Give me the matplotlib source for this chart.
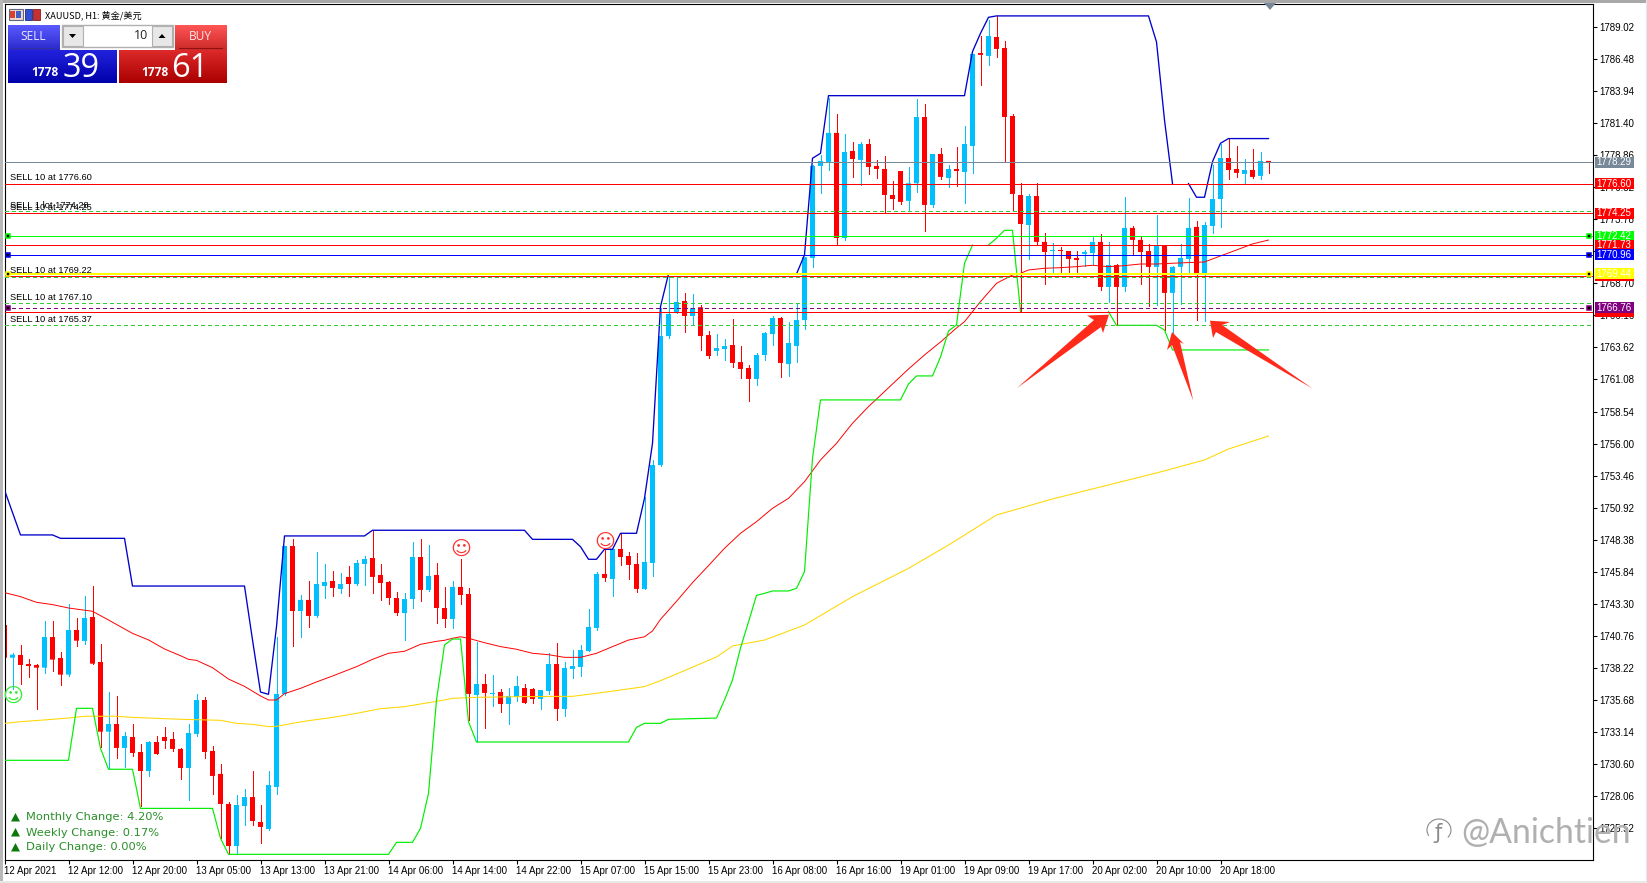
import numpy as np
import matplotlib
matplotlib.use("Agg")
import matplotlib.pyplot as plt
from matplotlib.patches import Rectangle, Polygon, Arc
from matplotlib.transforms import Affine2D

W, H = 1647, 883

opens = [
    1741.62, 1739.03, 1739.25, 1738.53, 1738.45, 1738.24, 1740.67, 1739.01, 1737.69, 1741.23,
    1740.36, 1742.26, 1738.69, 1733.17, 1733.78, 1731.88, 1732.75, 1731.56, 1730.05, 1732.35,
    1732.75, 1732.59, 1731.80, 1730.29, 1732.99, 1735.68, 1731.64, 1729.82, 1727.44, 1724.11,
    1727.28, 1727.99, 1726.01, 1725.46, 1728.79, 1736.16, 1747.88, 1742.73, 1743.61, 1742.34,
    1744.71, 1745.11, 1744.48, 1745.43, 1744.87, 1746.46, 1746.93, 1745.59, 1745.03, 1743.76,
    1742.57, 1743.68, 1747.01, 1744.40, 1745.59, 1742.97, 1742.10, 1744.64, 1744.08, 1736.08,
    1736.95, 1736.16, 1736.31, 1735.36, 1735.92, 1736.63, 1736.55, 1735.76, 1736.39, 1738.53,
    1734.97, 1738.14, 1738.30, 1739.56, 1741.39, 1745.67, 1745.27, 1747.65, 1747.09, 1746.46,
    1744.48, 1746.54, 1754.30, 1764.52, 1766.35, 1767.30, 1766.11, 1766.80, 1764.60, 1763.34,
    1763.49, 1763.81, 1762.46, 1761.99, 1761.12, 1763.02, 1764.68, 1765.95, 1762.31, 1763.73,
    1765.79, 1770.71, 1778.00, 1778.32, 1780.62, 1772.29, 1779.19, 1778.48, 1779.74, 1778.00,
    1777.76, 1775.70, 1777.60, 1775.23, 1776.63, 1781.88, 1774.91, 1778.95, 1777.05, 1777.76,
    1777.52, 1779.58, 1786.95, 1786.72, 1788.22, 1787.35, 1781.96, 1775.70, 1773.32, 1775.62,
    1771.98, 1771.26, 1771.34, 1771.26, 1770.71, 1771.03, 1771.10, 1771.98, 1768.41, 1770.15,
    1768.41, 1773.09, 1772.14, 1771.26, 1770.00, 1771.66, 1767.94, 1770.00, 1770.63, 1773.17,
    1769.44, 1773.24, 1775.38, 1778.63, 1777.76, 1777.37, 1777.68, 1777.21, 1778.40]

closes = [
    1739.03, 1739.27, 1738.45, 1738.37, 1738.24, 1740.67, 1738.88, 1737.69, 1741.23, 1740.38,
    1742.18, 1738.56, 1733.17, 1733.78, 1731.88, 1732.83, 1731.48, 1730.05, 1732.35, 1731.40,
    1732.43, 1731.80, 1730.29, 1733.06, 1735.68, 1731.56, 1729.66, 1727.44, 1724.11, 1727.36,
    1727.99, 1726.09, 1725.62, 1728.94, 1736.16, 1747.88, 1742.73, 1743.61, 1742.34, 1744.87,
    1745.03, 1744.56, 1744.87, 1744.87, 1746.54, 1746.85, 1745.43, 1744.95, 1743.76, 1742.57,
    1743.68, 1747.01, 1744.40, 1745.51, 1742.97, 1742.10, 1744.64, 1744.00, 1736.16, 1736.95,
    1736.24, 1736.24, 1735.36, 1736.00, 1736.79, 1735.44, 1735.76, 1736.47, 1738.53, 1734.97,
    1738.22, 1738.37, 1739.64, 1741.47, 1745.67, 1745.35, 1747.65, 1747.01, 1746.38, 1744.48,
    1746.62, 1754.30, 1764.52, 1766.27, 1767.22, 1766.11, 1766.74, 1764.52, 1762.94, 1763.57,
    1763.73, 1762.39, 1761.91, 1761.12, 1763.02, 1764.76, 1765.95, 1762.39, 1763.97, 1765.79,
    1770.76, 1778.00, 1778.40, 1780.62, 1772.29, 1779.11, 1778.55, 1779.74, 1777.92, 1777.76,
    1775.70, 1775.38, 1775.15, 1776.63, 1781.88, 1774.91, 1778.95, 1777.13, 1777.76, 1777.60,
    1779.74, 1786.88, 1786.80, 1788.30, 1787.27, 1781.88, 1775.78, 1773.40, 1775.62, 1771.98,
    1771.18, 1771.34, 1771.26, 1770.63, 1770.55, 1771.18, 1771.98, 1768.41, 1770.15, 1768.41,
    1773.09, 1772.14, 1771.18, 1770.00, 1771.66, 1767.94, 1770.00, 1770.71, 1773.09, 1769.44,
    1773.32, 1775.38, 1778.63, 1777.68, 1777.45, 1777.68, 1777.13, 1778.40, 1778.24]

highs = [
    1741.76, 1739.40, 1740.04, 1738.90, 1738.51, 1741.94, 1741.94, 1739.48, 1743.29, 1742.18,
    1743.92, 1744.71, 1740.12, 1736.31, 1736.00, 1733.14, 1733.78, 1732.19, 1732.43, 1732.83,
    1733.54, 1733.14, 1731.88, 1733.78, 1736.16, 1735.92, 1732.03, 1730.61, 1727.60, 1728.15,
    1728.63, 1730.05, 1727.36, 1730.05, 1740.70, 1747.88, 1748.44, 1744.00, 1745.11, 1747.41,
    1746.46, 1745.90, 1745.74, 1746.30, 1746.78, 1747.09, 1749.10, 1746.46, 1745.11, 1744.24,
    1744.16, 1748.20, 1748.44, 1747.96, 1746.54, 1744.64, 1745.11, 1746.85, 1744.56, 1740.28,
    1737.74, 1737.66, 1736.55, 1736.63, 1737.58, 1736.95, 1736.63, 1736.47, 1739.40, 1740.20,
    1738.69, 1739.64, 1740.04, 1742.89, 1745.82, 1747.57, 1747.65, 1748.84, 1747.41, 1747.33,
    1751.77, 1754.70, 1766.72, 1769.28, 1769.12, 1767.93, 1767.85, 1766.98, 1764.92, 1764.68,
    1764.29, 1765.87, 1763.73, 1762.23, 1763.18, 1764.84, 1766.11, 1766.03, 1765.63, 1767.14,
    1770.76, 1778.08, 1778.87, 1783.36, 1782.12, 1780.54, 1779.90, 1779.90, 1780.14, 1778.48,
    1778.79, 1776.81, 1777.60, 1777.92, 1783.31, 1782.91, 1778.95, 1779.43, 1778.08, 1779.51,
    1781.17, 1786.88, 1788.30, 1789.57, 1789.89, 1787.91, 1782.12, 1776.63, 1775.78, 1776.63,
    1772.69, 1771.90, 1771.58, 1771.26, 1771.26, 1771.34, 1772.40, 1772.61, 1771.98, 1770.23,
    1775.54, 1773.24, 1772.37, 1771.82, 1774.12, 1771.66, 1770.07, 1771.82, 1775.46, 1773.64,
    1773.56, 1778.08, 1779.74, 1780.14, 1779.59, 1778.56, 1779.35, 1779.11, 1778.40]

lows = [
    1739.03, 1736.53, 1736.95, 1737.53, 1734.99, 1737.85, 1737.95, 1736.90, 1737.61, 1739.99,
    1740.14, 1738.56, 1731.98, 1730.26, 1731.08, 1730.37, 1731.24, 1727.28, 1729.66, 1731.40,
    1731.88, 1731.64, 1729.42, 1727.76, 1732.83, 1731.08, 1728.23, 1724.74, 1723.48, 1723.48,
    1725.77, 1725.77, 1724.35, 1725.38, 1728.23, 1736.08, 1739.96, 1740.67, 1741.47, 1742.26,
    1743.76, 1743.92, 1744.16, 1743.92, 1744.79, 1744.77, 1744.16, 1743.61, 1743.29, 1742.42,
    1740.44, 1742.97, 1743.53, 1744.32, 1741.78, 1741.47, 1741.39, 1743.29, 1734.10, 1732.35,
    1733.46, 1735.20, 1734.73, 1733.78, 1735.60, 1735.44, 1735.44, 1734.97, 1736.16, 1734.10,
    1734.41, 1737.42, 1737.58, 1739.56, 1741.23, 1745.11, 1743.92, 1746.38, 1745.27, 1744.24,
    1744.48, 1745.51, 1754.22, 1764.37, 1766.35, 1764.84, 1765.48, 1763.42, 1762.78, 1763.02,
    1762.62, 1762.07, 1761.20, 1759.37, 1760.64, 1762.62, 1763.81, 1761.28, 1761.35, 1762.46,
    1765.08, 1770.00, 1775.86, 1777.68, 1771.71, 1772.14, 1777.13, 1776.49, 1777.37, 1777.05,
    1774.25, 1774.59, 1774.99, 1774.51, 1775.94, 1772.85, 1774.75, 1776.97, 1776.34, 1776.41,
    1775.07, 1777.44, 1784.42, 1786.00, 1786.64, 1778.40, 1774.51, 1766.45, 1770.63, 1771.71,
    1768.65, 1769.44, 1769.52, 1769.44, 1769.60, 1770.07, 1770.15, 1768.17, 1767.22, 1765.40,
    1768.09, 1771.03, 1768.65, 1766.90, 1766.98, 1765.00, 1764.34, 1767.06, 1769.44, 1765.80,
    1765.72, 1772.69, 1773.17, 1776.97, 1777.13, 1776.65, 1777.05, 1776.97, 1777.45]

# channel and moving average lines, read at the bars where they bend
upper_idx = [0, 2, 6, 7, 15, 16, 30, 31, 32, 33, 34, 35, 45, 46, 65, 66, 71, 72, 73, 74, 75, 76, 77, 79,
             80, 81, 82, 83, 91, 99, 100, 101, 102, 103, 120, 121, 122, 123, 124, 143, 144, 145, 146, 147, 148,
             149, 150, 151, 152, 153, 158]
# nan where the line runs hidden behind a trade level
upper_val = [1752.32, 1748.76, 1748.76, 1748.49, 1748.49, 1744.71, 1744.71, 1740.44, 1736.31, 1736.13,
             1741.49, 1748.68, 1748.68, 1749.13, 1749.13, 1748.41, 1748.41, 1747.83, 1746.83, 1746.83,
             1747.62, 1747.62, 1748.89, 1748.89, 1751.66, 1756.02, 1766.85, 1769.44, np.nan, 1769.44, 1770.95,
             1778.61, 1779.00, 1783.57, 1783.57, 1787.06, 1788.51, 1789.78, 1789.89, 1789.89, 1787.83,
             1781.64, 1776.60, np.nan, 1776.60, 1775.52, 1775.52, 1778.34, 1779.80, 1780.17, 1780.17]

lower_idx = [0, 8, 9, 11, 12, 13, 16, 17, 26, 27, 28, 48, 49, 51, 52, 53, 54, 55, 56, 57, 58, 59, 78, 79,
             80, 82, 83, 89, 90, 91, 92, 93, 94, 95, 96, 98, 99, 100, 101, 102, 112, 113, 114, 116, 117,
             118, 119, 120, 121, 122, 123, 124, 125, 126, 127, 132, 138, 139, 144, 145, 146, 158]
lower_val = [1730.90, 1730.90, 1735.02, 1735.02, 1731.85, 1730.19, 1730.19, 1727.09, 1727.09, 1724.72,
             1723.45, 1723.45, 1724.40, 1724.40, 1725.51, 1728.28, 1735.68, 1740.04, 1740.51, 1740.51,
             1733.96, 1732.35, 1732.35, 1733.51, 1733.83, 1733.83, 1734.15, 1734.25, 1735.68, 1737.27,
             1739.80, 1741.86, 1743.97, 1744.13, 1744.32, 1744.32, 1744.53, 1745.85, 1754.83, 1759.46,
             1759.46, 1760.72, 1761.36, 1761.36, 1762.86, 1764.92, 1765.40, 1770.29, 1771.73, np.nan, 1771.73,
             1772.27, 1772.90, 1772.90, 1766.46, np.nan, 1766.46, 1765.37, 1765.37, 1765.00, 1763.42, 1763.42]

ma_red_idx = [0, 2, 4, 6, 8, 11, 13, 16, 18, 20, 22, 23, 24, 26, 28, 30, 32, 33, 34, 35, 37, 39, 41, 44,
              46, 48, 50, 52, 54, 55, 56, 57, 58, 60, 62, 64, 66, 68, 70, 72, 74, 76, 78, 80, 81, 82, 84,
              86, 88, 90, 92, 94, 96, 98, 100, 102, 104, 106, 108, 110, 111, 113, 115, 117, 119, 120, 122,
              124, 126, 127, 128, 130, 132, 134, 136, 138, 140, 142, 144, 146, 148, 150, 152, 154, 156,
              158]
ma_red_val = [1744.19, 1743.87, 1743.42, 1743.24, 1742.97, 1742.71, 1742.02, 1740.96, 1740.44, 1739.72,
              1739.19, 1738.90, 1738.82, 1738.24, 1737.34, 1736.76, 1736.00, 1735.68, 1735.68, 1736.18,
              1736.60, 1737.11, 1737.58, 1738.32, 1738.90, 1739.38, 1739.54, 1740.09, 1740.33, 1740.41,
              1740.57, 1740.69, 1740.57, 1740.22, 1739.91, 1739.70, 1739.38, 1739.27, 1739.06, 1739.06,
              1739.38, 1739.91, 1740.43, 1740.69, 1741.15, 1742.07, 1743.50, 1744.98, 1746.33, 1747.70,
              1748.89, 1749.81, 1750.87, 1751.66, 1752.98, 1754.70, 1756.02, 1757.61, 1758.93, 1760.12,
              1760.72, 1761.91, 1763.02, 1764.05, 1765.16, 1765.66, 1767.25, 1768.70, 1769.36, 1769.49,
              1769.76, 1769.89, 1769.94, 1770.02, 1770.13, 1770.02, 1770.10, 1770.23, 1770.23, 1770.29,
              1770.34, 1770.39, 1770.87, 1771.34, 1771.82, 1772.13]

ma_yel_idx = [0, 2, 5, 8, 10, 14, 16, 18, 22, 27, 29, 31, 33, 34, 36, 38, 41, 44, 47, 50, 53, 55, 56, 59,
              65, 71, 74, 77, 80, 82, 84, 89, 91, 95, 100, 106, 113, 118, 124, 131, 139, 144, 150, 153,
              158]
ma_yel_val = [1733.83, 1733.96, 1734.10, 1734.25, 1734.39, 1734.39, 1734.30, 1734.25, 1734.15, 1734.07,
              1733.83, 1733.75, 1733.57, 1733.59, 1733.83, 1734.04, 1734.30, 1734.62, 1734.99, 1735.15,
              1735.47, 1735.68, 1735.81, 1735.89, 1735.95, 1735.97, 1736.21, 1736.47, 1736.74, 1737.21,
              1737.74, 1739.09, 1739.96, 1740.43, 1741.62, 1743.87, 1746.11, 1747.96, 1750.34, 1751.61,
              1752.88, 1753.67, 1754.70, 1755.57, 1756.60]

smile_idx = [1, 57, 75]
smile_val = [1735.94, 1747.65, 1748.20]
smile_col = ['#33ee33', '#ff3333', '#ff3333']

tick_idx = list(range(0, 153, 8))
tick_lab = ['12 Apr 2021', '12 Apr 12:00', '12 Apr 20:00', '13 Apr 05:00', '13 Apr 13:00', '13 Apr 21:00',
            '14 Apr 06:00', '14 Apr 14:00', '14 Apr 22:00', '15 Apr 07:00', '15 Apr 15:00', '15 Apr 23:00',
            '16 Apr 08:00', '16 Apr 16:00', '19 Apr 01:00', '19 Apr 09:00', '19 Apr 17:00', '20 Apr 02:00',
            '20 Apr 10:00', '20 Apr 18:00']
price_ticks = [1789.02, 1786.48, 1783.94, 1781.40, 1778.86, 1776.32, 1773.78, 1771.24, 1768.70, 1766.16,
               1763.62, 1761.08, 1758.54, 1756.00, 1753.46, 1750.92, 1748.38, 1745.84, 1743.30, 1740.76,
               1738.22, 1735.68, 1733.14, 1730.60, 1728.06, 1725.52]

# horizontal levels: price, colour, dashed, then right hand tag
level_val = [1778.29, 1776.60, 1774.25, 1772.42, 1771.73, 1770.96, 1769.30, 1769.44, 1766.46, 1766.76]
level_col = ['#778899', '#ff0000', '#ff0000', '#00ff00', '#ff0000', '#0000ff', '#ff0000', '#ffff00', '#ff0000', '#800080']
level_dash = [False, False, False, False, False, False, False, False, False, True]
order_val = [1774.45, 1769.22, 1767.10, 1765.37]

marker_val = [1772.42, 1770.96, 1769.44, 1766.76]
marker_col = ['#00ff00', '#0000ff', '#ffff00', '#800080']

sell_val = [1776.60, 1774.38, 1774.25, 1769.22, 1767.10, 1765.37]
sell_lab = ['SELL 10 at 1776.60', 'SELL 1 lot 1774.28', 'SELL 10 at 1774.25', 'SELL 10 at 1769.22',
            'SELL 10 at 1767.10', 'SELL 10 at 1765.37']

change_lab = ['Monthly Change: 4.20%', 'Weekly Change: 0.17%', 'Daily Change: 0.00%']

plt.rcParams['font.family'] = ['Liberation Sans', 'DejaVu Sans']
fig = plt.figure(figsize=(W / 100, H / 100), dpi=100, facecolor='white')
pix = Affine2D().scale(1 / W, -1 / H).translate(0, 1) + fig.transFigure

ax = fig.add_axes([4.5 / W, 1 - 860 / H, (1592.7 - 4.5) / W, (860 - 4.3) / H])
ax.set_xlim(0, 198.525)
ax.set_ylim(1723.0, 1790.81)
for s in ax.spines.values():
    s.set_linewidth(0.8)

opens, closes, highs, lows = map(np.array, (opens, closes, highs, lows))
idx = np.arange(len(opens))
up = closes >= opens
cols = np.where(up, '#00bfff', '#ff0000')

ax.vlines(idx, lows, highs, colors=cols, lw=0.72, zorder=2, antialiased=False)
bars = ax.bar(idx, np.abs(closes - opens), bottom=np.minimum(opens, closes), width=5 / 8, color=cols, lw=0, zorder=2.1)
for b in bars:
    b.set_snap(False)

ax.plot(ma_yel_idx, ma_yel_val, color='#ffd700', lw=0.75, zorder=3)
ax.plot(ma_red_idx, ma_red_val, color='#ff0000', lw=0.7, zorder=3.1)
ax.plot(lower_idx, lower_val, color='#00ee00', lw=0.85, zorder=3.2)
ax.plot(upper_idx, upper_val, color='#0000cc', lw=0.95, zorder=3.3)

for v in order_val:
    ax.axhline(v, color='#32cd32', lw=0.72, dashes=(4, 3), zorder=4, antialiased=False)
for v, c, d in zip(level_val, level_col, level_dash):
    if d:
        ax.axhline(v, color=c, lw=0.72, dashes=(4, 3), zorder=4.2, antialiased=False)
    else:
        ax.axhline(v, color=c, lw=0.72, zorder=4.2, antialiased=False)
for v in level_val[7:8]:
    ax.axhline(v, color='#ffff00', lw=1.2, zorder=4.3, antialiased=False)

# little square handles on both ends of the trade lines
for v, c in zip(marker_val, marker_col):
    for x in (3 / 1588, 1584.6 / 1588):
        ax.plot([x], [v], marker='s', ms=3.0, mfc='black', mec=c, mew=1.1, zorder=5,
                transform=ax.get_yaxis_transform(), clip_on=False)

for v, t in zip(sell_val, sell_lab):
    ax.annotate(t, (5.5 / 1588, v), xycoords=ax.get_yaxis_transform(), xytext=(0, 6), textcoords='offset pixels',
                fontsize=6.7, color='black', ha='left', va='center', zorder=5)

for i, v, c in zip(smile_idx, smile_val, smile_col):
    ax.text(i, v, '\u263a', family='DejaVu Sans', fontsize=14.5, color=c, ha='center', va='center', zorder=6)

ax.set_xticks(tick_idx)
ax.set_xticklabels(tick_lab, ha='left', fontsize=7)
ax.yaxis.tick_right()
ax.set_yticks(price_ticks)
ax.set_yticklabels(['%.2f' % p for p in price_ticks], fontsize=7)
ax.tick_params(axis='x', length=3, width=0.8, pad=1.2)
ax.tick_params(axis='y', length=3, width=0.8, pad=2)

# price tags over the scale
tag_h = 11 * (1790.81 - 1723.0) / 855.7
for v, c in zip(level_val, level_col):
    ax.add_patch(Rectangle((1 + 2.3 / 1588, v - tag_h / 2), 39 / 1588, tag_h, fc=c, ec='none', zorder=10,
                           transform=ax.get_yaxis_transform(), clip_on=False))
    if v == 1769.30 or v == 1766.46:
        continue
    ax.text(1 + 4 / 1588, v, '%.2f' % v, color='white', fontsize=7, va='center', ha='left', zorder=11,
            transform=ax.get_yaxis_transform(), clip_on=False)

# chart shift marker at the top
fig.add_artist(Polygon([(1264, 3), (1276, 3), (1270, 10)], closed=True, fc='#778899', ec='none', transform=pix))

# window edges
for x0, y0, x1, y1, c in [(0, 0, W, 2.5, '#a8a8a8'), (0, 0, 3, H, '#b8b8b8'), (1645.5, 0, W, H, '#e8e8e8'),
                          (0, 881, W, H, '#e8e8e8')]:
    fig.add_artist(Rectangle((x0, y0), x1 - x0, y1 - y0, fc=c, ec='none', transform=pix))


def gradient(x0, y0, x1, y1, top, bottom):
    a = fig.add_axes([x0 / W, 1 - y1 / H, (x1 - x0) / W, (y1 - y0) / H], zorder=20)
    c0 = np.array(matplotlib.colors.to_rgb(top))
    c1 = np.array(matplotlib.colors.to_rgb(bottom))
    t = np.linspace(0, 1, 64)[:, None, None]
    a.imshow(c0[None, None, :] * (1 - t) + c1[None, None, :] * t, aspect='auto')
    a.axis('off')


def label(x, y, s, **kw):
    kw.setdefault('ha', 'center')
    kw.setdefault('va', 'center')
    return fig.text(x, y, s, transform=pix, zorder=30, **kw)


# one click trading panel
gradient(8, 25, 60, 50, '#5a5aff', '#2a2acc')
gradient(8, 50, 117, 83, '#2222dd', '#0000aa')
gradient(175, 25, 227, 50, '#ff5555', '#cc2a2a')
gradient(119, 50, 227, 83, '#dd2a2a', '#aa0000')
fig.add_artist(Rectangle((62, 25), 111, 22, fc='white', ec='#b0b0b0', lw=1.0, transform=pix, zorder=25))
for x0 in (63, 152):
    fig.add_artist(Rectangle((x0, 26), 20, 20, fc='#e8e8e8', ec='#b0b0b0', lw=0.8, transform=pix, zorder=26))
fig.add_artist(Polygon([(69, 34), (76, 34), (72.5, 38)], closed=True, fc='black', ec='none', transform=pix, zorder=27))
fig.add_artist(Polygon([(158.5, 38), (165.5, 38), (162, 34)], closed=True, fc='black', ec='none', transform=pix, zorder=27))
for x0, c in ((12, '#3030a0'), (179, '#901010')):
    fig.add_artist(Rectangle((x0, 48), 44, 0.8, fc=c, ec='none', transform=pix, zorder=27))
label(33, 36, 'SELL', color='#e8e8ff', fontsize=8.6, family=['Open Sans', 'DejaVu Sans'])
label(200, 36, 'BUY', color='#ffe8e8', fontsize=8.6, family=['Open Sans', 'DejaVu Sans'])
label(148, 35.5, '10', color='#222222', fontsize=9.0, ha='right', family=['Open Sans', 'DejaVu Sans'])
label(45, 72.5, '1778', color='white', fontsize=8.6, fontweight='bold', family=['Open Sans', 'DejaVu Sans'])
label(155, 72.5, '1778', color='white', fontsize=8.6, fontweight='bold', family=['Open Sans', 'DejaVu Sans'])
label(81, 68.5, '39', color='white', fontsize=23.5, family=['Open Sans', 'DejaVu Sans'])
label(190, 68.5, '61', color='white', fontsize=23.5, family=['Open Sans', 'DejaVu Sans'])

# chart header with its two icons
fig.add_artist(Rectangle((8.5, 9), 14, 11, fc='#f4d8c8', ec='#606880', lw=0.8, transform=pix, zorder=25))
fig.add_artist(Rectangle((10, 11), 5, 7, fc='#d84030', ec='none', transform=pix, zorder=26))
fig.add_artist(Rectangle((16, 11), 5, 7, fc='#4060c8', ec='none', transform=pix, zorder=26))
fig.add_artist(Rectangle((25, 9), 7, 11, fc='#3050d0', ec='#202880', lw=0.6, transform=pix, zorder=25))
fig.add_artist(Rectangle((33, 9), 7, 11, fc='#c83030', ec='#802020', lw=0.6, transform=pix, zorder=25))
label(45, 15, 'XAUUSD, H1: \u9ec4\u91d1/\u7f8e\u5143', color='black', fontsize=6.6, ha='left',
      family=['Noto Sans CJK SC', 'DejaVu Sans'])

# change block bottom left
for k, t in enumerate(change_lab):
    y = 817 + 15 * k
    fig.add_artist(Polygon([(11, y + 4.5), (20, y + 4.5), (15.5, y - 4)], closed=True, fc='#0b7a0b', ec='none',
                           transform=pix, zorder=25))
    label(26, y + 0.5, t, color='#2a8f2a', fontsize=8.25, ha='left', family=['DejaVu Sans'])

# red hand drawn arrows
arrow_col = '#ff2a1a'
arrow_a = [(1109, 314.7), (1087, 315.5), (1094, 320), (1016.7, 388.3), (1101, 327), (1103, 333)]
arrow_b = [(1172, 332), (1184, 344), (1180, 342), (1193.3, 400.7), (1172, 345), (1167, 350)]
arrow_c = [(1210, 320.7), (1230, 322), (1222, 325), (1312.7, 388.7), (1216, 332), (1213, 338)]
for pts in (arrow_a, arrow_b, arrow_c):
    fig.add_artist(Polygon(pts, closed=True, fc=arrow_col, ec='none', transform=pix, zorder=15))

# watermark
label(1461, 833, '@Anichtien', color='#b0b0b0', fontsize=24.3, ha='left', family=['Lato', 'DejaVu Sans'])
fig.add_artist(Arc((1439, 830), 24, 22, theta1=150, theta2=40, color='#8a8a8a', lw=0.8, transform=pix, zorder=15))
label(1438, 833, '\u0192', color='#8a8a8a', fontsize=15, family=['DejaVu Sans'])

fig.savefig('out.png', dpi=100, facecolor='white')
